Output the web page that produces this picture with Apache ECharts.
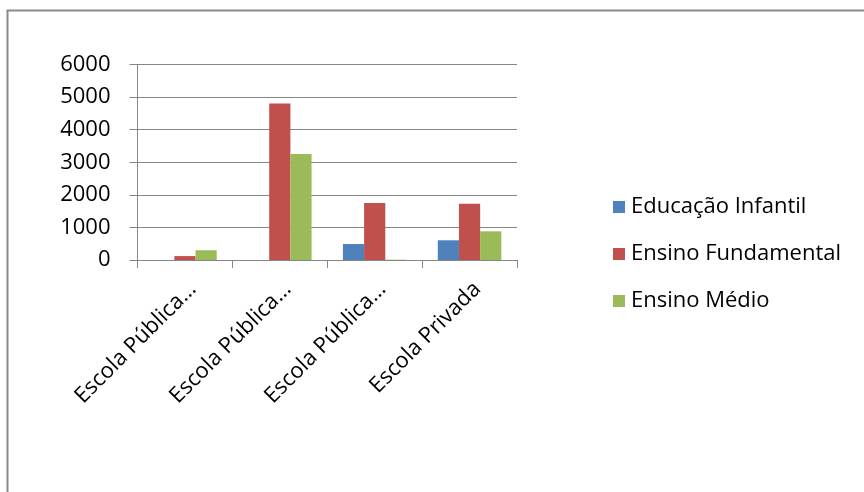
<!DOCTYPE html>
<html>
<head>
<meta charset="utf-8">
<title>Escolas</title>
<script src="https://cdn.jsdelivr.net/npm/echarts@6/dist/echarts.min.js"></script>
<style>
  html, body { margin: 0; padding: 0; background: #fff; }
  #chart { width: 864px; height: 492px; }
</style>
</head>
<body>
<div id="chart"></div>
<script>
// dados
const categorias = ['Escola Pública…', 'Escola Pública… ', 'Escola Pública…  ', 'Escola Privada'];
const educacaoInfantil = [0, 0, 490, 605];
const ensinoFundamental = [120, 4800, 1750, 1730];
const ensinoMedio = [300, 3250, 10, 880];
const ticksY = [0, 1000, 2000, 3000, 4000, 5000, 6000];

const cores = ['#4F81BD', '#C0504D', '#9BBB59'];
const fonte = 'Open Sans';
const cinza = '#868686';

const myChart = echarts.init(document.getElementById('chart'));

myChart.setOption({
  backgroundColor: '#fff',
  color: cores,
  animation: false,
  textStyle: { fontFamily: fonte },
  graphic: [
    {
      type: 'rect',
      shape: { x: 7.5, y: 10.5, width: 900, height: 600 },
      style: { fill: 'none', stroke: '#8a8a8a', lineWidth: 2 }
    }
  ],
  legend: {
    orient: 'vertical',
    left: 608,
    top: 191,
    icon: 'rect',
    itemWidth: 12,
    itemHeight: 12,
    itemGap: 25,
    selectedMode: false,
    textStyle: { fontFamily: fonte, fontSize: 22, color: '#000', padding: [0, 0, 0, 1] },
    data: ['Educação Infantil', 'Ensino Fundamental', 'Ensino Médio']
  },
  grid: { left: 137.5, right: 347, top: 64.5, bottom: 232, containLabel: false },
  xAxis: {
    type: 'category',
    data: categorias,
    axisLine: { lineStyle: { color: cinza, width: 1 } },
    axisTick: { show: true, length: 8, lineStyle: { color: cinza } },
    axisLabel: {
      rotate: 45,
      interval: 0,
      margin: 18,
      verticalAlign: 'top',
      fontFamily: fonte,
      fontSize: 22,
      color: '#000',
      formatter: function (v) { return v.trim(); }
    }
  },
  yAxis: {
    type: 'value',
    min: ticksY[0],
    max: ticksY[ticksY.length - 1],
    interval: 1000,
    axisLine: { show: true, lineStyle: { color: cinza } },
    axisTick: { show: true, length: 8, lineStyle: { color: cinza } },
    splitLine: { lineStyle: { color: cinza, width: 1 } },
    axisLabel: {
      margin: 27,
      fontFamily: fonte,
      fontSize: 22,
      color: '#000',
      formatter: function (v) { return String(v); }
    }
  },
  series: [
    { name: 'Educação Infantil', type: 'bar', data: educacaoInfantil, barGap: '0%', barCategoryGap: '33%' },
    { name: 'Ensino Fundamental', type: 'bar', data: ensinoFundamental, barGap: '0%', barCategoryGap: '33%' },
    { name: 'Ensino Médio', type: 'bar', data: ensinoMedio, barGap: '0%', barCategoryGap: '33%' }
  ]
});
</script>
</body>
</html>
